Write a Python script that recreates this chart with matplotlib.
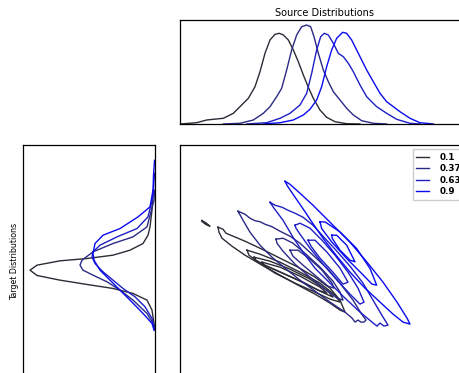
import matplotlib
matplotlib.use("Agg")
import matplotlib.pyplot as plt

# t values and colours (black -> blue)
t_labels = ['0.1', '0.37', '0.63', '0.9']
colors = ['#2c2c36', '#2a2a85', '#1e1ec4', '#0a0af2']

# source densities (top panel)
src_x = [
    [0, 0.5, 0.8, 1.0, 1.3, 1.6, 1.85, 2.05, 2.25, 2.4, 2.55, 2.7, 2.85, 2.98, 3.1, 3.25,
     3.4, 3.55, 3.7, 3.85, 4.0, 4.2, 4.4, 4.65, 5.0, 5.4],
    [1.3, 1.8, 2.2, 2.5, 2.7, 2.9, 3.05, 3.2, 3.35, 3.5, 3.65, 3.8, 3.92, 4.02, 4.15,
     4.3, 4.45, 4.6, 4.8, 5.0, 5.2, 5.45, 5.8, 6.2],
    [2.0, 2.6, 3.0, 3.3, 3.6, 3.8, 3.95, 4.1, 4.22, 4.33, 4.45, 4.6, 4.75, 4.9, 5.05,
     5.2, 5.4, 5.6, 5.9, 6.2, 6.5, 6.9, 7.2],
    [2.5, 3.0, 3.4, 3.7, 3.9, 4.1, 4.25, 4.4, 4.55, 4.7, 4.88, 5.0, 5.15, 5.3, 5.45,
     5.6, 5.8, 6.0, 6.2, 6.4, 6.6, 6.9, 7.2, 7.6],
]
src_d = [
    [0, 0.013, 0.04, 0.047, 0.057, 0.107, 0.19, 0.257, 0.373, 0.523, 0.707, 0.84, 0.897,
     0.907, 0.89, 0.84, 0.74, 0.623, 0.49, 0.367, 0.257, 0.14, 0.067, 0.023, 0.003, 0],
    [0, 0.007, 0.04, 0.107, 0.173, 0.273, 0.357, 0.54, 0.74, 0.89, 0.973, 0.99, 0.973,
     0.873, 0.707, 0.54, 0.423, 0.323, 0.24, 0.157, 0.09, 0.033, 0.007, 0],
    [0, 0.013, 0.057, 0.107, 0.19, 0.307, 0.507, 0.74, 0.873, 0.907, 0.89, 0.807, 0.707,
     0.673, 0.607, 0.523, 0.39, 0.273, 0.173, 0.107, 0.047, 0.007, 0],
    [0, 0.013, 0.04, 0.09, 0.147, 0.24, 0.373, 0.573, 0.74, 0.857, 0.917, 0.907, 0.84,
     0.74, 0.64, 0.54, 0.423, 0.307, 0.223, 0.173, 0.123, 0.057, 0.013, 0],
]

# target densities (left panel)
tgt_y = [
    [5.64, 5.04, 4.54, 4.29, 4.04, 3.84, 3.69, 3.59, 3.52, 3.39, 3.24, 3.08, 2.94, 2.81,
     2.69, 2.54, 2.34, 2.04, 1.64, 1.44],
    [5.64, 5.34, 4.54, 4.24, 4.04, 3.79, 3.54, 3.39, 3.24, 3.09, 2.89, 2.64, 2.34, 1.94,
     1.64, 1.44],
    [6.15, 5.44, 4.84, 4.49, 4.24, 3.99, 3.79, 3.64, 3.44, 3.19, 2.94, 2.69, 2.44, 2.14,
     1.79, 1.54],
    [6.54, 6.09, 5.64, 5.14, 4.84, 4.49, 4.29, 4.04, 3.74, 3.54, 3.24, 2.94, 2.64, 2.34,
     1.94, 1.64, 1.44],
]
tgt_d = [
    [0.02, 0.03, 0.05, 0.07, 0.12, 0.25, 0.42, 0.68, 0.95, 1.18, 1.25, 1.18, 0.95, 0.68,
     0.42, 0.22, 0.08, 0.03, 0.01, 0.0],
    [0.005, 0.01, 0.08, 0.22, 0.42, 0.62, 0.73, 0.75, 0.72, 0.62, 0.48, 0.35, 0.22, 0.08,
     0.02, 0.005],
    [0.005, 0.02, 0.07, 0.18, 0.38, 0.55, 0.62, 0.63, 0.60, 0.52, 0.42, 0.32, 0.20, 0.10,
     0.03, 0.01],
    [0.005, 0.015, 0.02, 0.05, 0.17, 0.35, 0.52, 0.60, 0.62, 0.61, 0.55, 0.45, 0.35, 0.25,
     0.12, 0.03, 0.01],
]

# joint density contour rings (main panel), one list of rings per t
joint_x = [
    [
        [0.66, 0.78, 0.90, 0.78, 0.66, 0.66],
        [1.14, 1.29, 1.38, 1.95, 2.46, 3.00, 3.54, 4.05, 4.50, 4.80, 4.95, 4.80, 4.50, 4.05,
         3.54, 3.00, 2.46, 1.95, 1.56, 1.26, 1.17, 1.14],
        [2.01, 2.40, 3.00, 3.60, 4.20, 4.65, 4.80, 4.50, 4.05, 3.45, 2.85, 2.34, 2.07, 2.01],
        [2.22, 2.70, 3.30, 3.90, 4.44, 4.59, 4.26, 3.75, 3.15, 2.55, 2.28, 2.22],
        [2.46, 3.00, 3.60, 4.20, 4.41, 4.14, 3.54, 2.94, 2.52, 2.46],
    ],
    [
        [1.74, 1.95, 2.10, 2.25, 2.40, 2.55, 2.76, 3.00, 3.30, 3.60, 3.99, 4.41, 4.80, 5.19,
         5.43, 5.58, 5.52, 5.43, 5.34, 5.25, 5.16, 4.95, 4.50, 4.05, 3.60, 3.15, 2.76, 2.40,
         2.10, 1.89, 1.74],
        [2.88, 3.09, 3.39, 3.78, 4.20, 4.59, 4.80, 4.89, 4.71, 4.35, 3.90, 3.45, 3.09, 2.91,
         2.88],
        [3.30, 3.54, 3.90, 4.26, 4.56, 4.62, 4.44, 4.08, 3.69, 3.39, 3.30],
    ],
    [
        [2.70, 2.85, 3.06, 3.24, 3.45, 3.69, 3.99, 4.29, 4.68, 5.10, 5.49, 5.79, 6.09, 6.24,
         6.12, 6.00, 5.91, 5.76, 5.40, 4.95, 4.50, 4.05, 3.69, 3.39, 3.09, 2.82, 2.70],
        [3.45, 3.60, 3.90, 4.26, 4.65, 5.04, 5.34, 5.52, 5.40, 5.10, 4.71, 4.29, 3.90, 3.60,
         3.48, 3.45],
        [3.84, 4.05, 4.41, 4.80, 5.04, 4.89, 4.56, 4.20, 3.93, 3.84],
    ],
    [
        [3.15, 3.30, 3.60, 3.99, 4.59, 5.10, 5.61, 6.09, 6.51, 6.81, 6.90, 6.69, 6.39, 6.00,
         5.55, 5.10, 4.68, 4.29, 3.96, 3.66, 3.39, 3.21, 3.15],
        [4.20, 4.35, 4.80, 5.30, 5.70, 5.90, 5.76, 5.50, 5.00, 4.55, 4.25, 4.20],
        [4.55, 4.70, 5.00, 5.25, 5.10, 4.80, 4.57, 4.55],
    ],
]
joint_y = [
    [
        [4.73, 4.66, 4.56, 4.61, 4.70, 4.73],
        [4.53, 4.47, 4.35, 4.11, 3.87, 3.60, 3.33, 3.03, 2.70, 2.34, 1.98, 2.04, 2.25, 2.52,
         2.79, 3.09, 3.39, 3.69, 3.96, 4.20, 4.38, 4.53],
        [3.84, 3.72, 3.48, 3.18, 2.85, 2.49, 2.28, 2.37, 2.58, 2.85, 3.15, 3.48, 3.69, 3.84],
        [3.63, 3.51, 3.27, 2.97, 2.61, 2.43, 2.58, 2.85, 3.12, 3.39, 3.54, 3.63],
        [3.48, 3.33, 3.06, 2.73, 2.55, 2.64, 2.94, 3.21, 3.39, 3.48],
    ],
    [
        [5.01, 4.92, 4.80, 4.725, 4.695, 4.62, 4.545, 4.41, 4.26, 4.05, 3.69, 3.30, 2.85,
         2.34, 1.95, 1.74, 1.68, 1.68, 1.74, 1.68, 1.80, 1.98, 2.28, 2.61, 2.94, 3.30, 3.63,
         3.99, 4.38, 4.74, 5.01],
        [4.17, 4.20, 4.05, 3.72, 3.33, 2.91, 2.58, 2.34, 2.40, 2.67, 3.03, 3.42, 3.81, 4.05,
         4.17],
        [3.84, 3.84, 3.57, 3.24, 2.85, 2.70, 2.76, 3.06, 3.39, 3.66, 3.84],
    ],
    [
        [5.28, 5.19, 5.13, 5.04, 4.95, 4.83, 4.59, 4.26, 3.84, 3.36, 2.85, 2.34, 1.83, 1.59,
         1.56, 1.65, 1.56, 1.68, 1.98, 2.40, 2.85, 3.30, 3.78, 4.23, 4.74, 5.10, 5.28],
        [4.59, 4.65, 4.50, 4.14, 3.69, 3.18, 2.70, 2.28, 2.22, 2.52, 2.94, 3.42, 3.90, 4.32,
         4.50, 4.59],
        [4.14, 4.14, 3.78, 3.30, 2.88, 2.82, 3.21, 3.60, 3.96, 4.14],
    ],
    [
        [5.91, 5.82, 5.55, 5.19, 4.59, 4.08, 3.48, 2.88, 2.28, 1.80, 1.62, 1.68, 1.92, 2.28,
         2.70, 3.18, 3.69, 4.20, 4.68, 5.13, 5.52, 5.79, 5.91],
        [4.69, 4.69, 4.39, 3.89, 3.29, 2.79, 2.82, 3.09, 3.59, 4.09, 4.49, 4.69],
        [4.29, 4.29, 3.99, 3.49, 3.54, 3.84, 4.19, 4.29],
    ],
]

W, H = 460, 373
fig = plt.figure(figsize=(W / 100, H / 100), dpi=100)

# axes rectangles (parts of them run past the figure edge, like the original crop)
ax_top = fig.add_axes([180 / W, (H - 124) / H, 289 / W, 104 / H])
ax_left = fig.add_axes([23 / W, (H - 378) / H, 132 / W, 233 / H])
ax_main = fig.add_axes([180 / W, (H - 378) / H, 289 / W, 233 / H])

for i in range(len(t_labels)):
    ax_top.plot(src_x[i], src_d[i], color=colors[i], lw=1.0)
    ax_left.plot(tgt_d[i], tgt_y[i], color=colors[i], lw=1.0)
    for j, (rx, ry) in enumerate(zip(joint_x[i], joint_y[i])):
        ax_main.plot(rx, ry, color=colors[i], lw=1.0,
                     label=t_labels[i] if j == 0 else None)

ax_top.set_xlim(0, 8.67)
ax_top.set_ylim(0, 1.04)
ax_top.set_title('Source Distributions', fontsize=7, pad=3)

ax_left.set_xlim(1.32, 0)
ax_left.set_ylim(0, 7.0)
ax_left.set_ylabel('Target Distributions', fontsize=5.7, labelpad=3)

ax_main.set_xlim(0, 8.67)
ax_main.set_ylim(0, 7.0)
ax_main.legend(loc='upper right',
               prop={'weight': 'bold', 'size': 6.3},
               handlelength=1.5, handletextpad=1.15, borderpad=0.4,
               labelspacing=0.28, fancybox=False, edgecolor='#cccccc',
               framealpha=1)

for ax in (ax_top, ax_left, ax_main):
    ax.set_xticks([])
    ax.set_yticks([])
    for s in ax.spines.values():
        s.set_linewidth(0.9)

fig.savefig('out.png', dpi=100)
